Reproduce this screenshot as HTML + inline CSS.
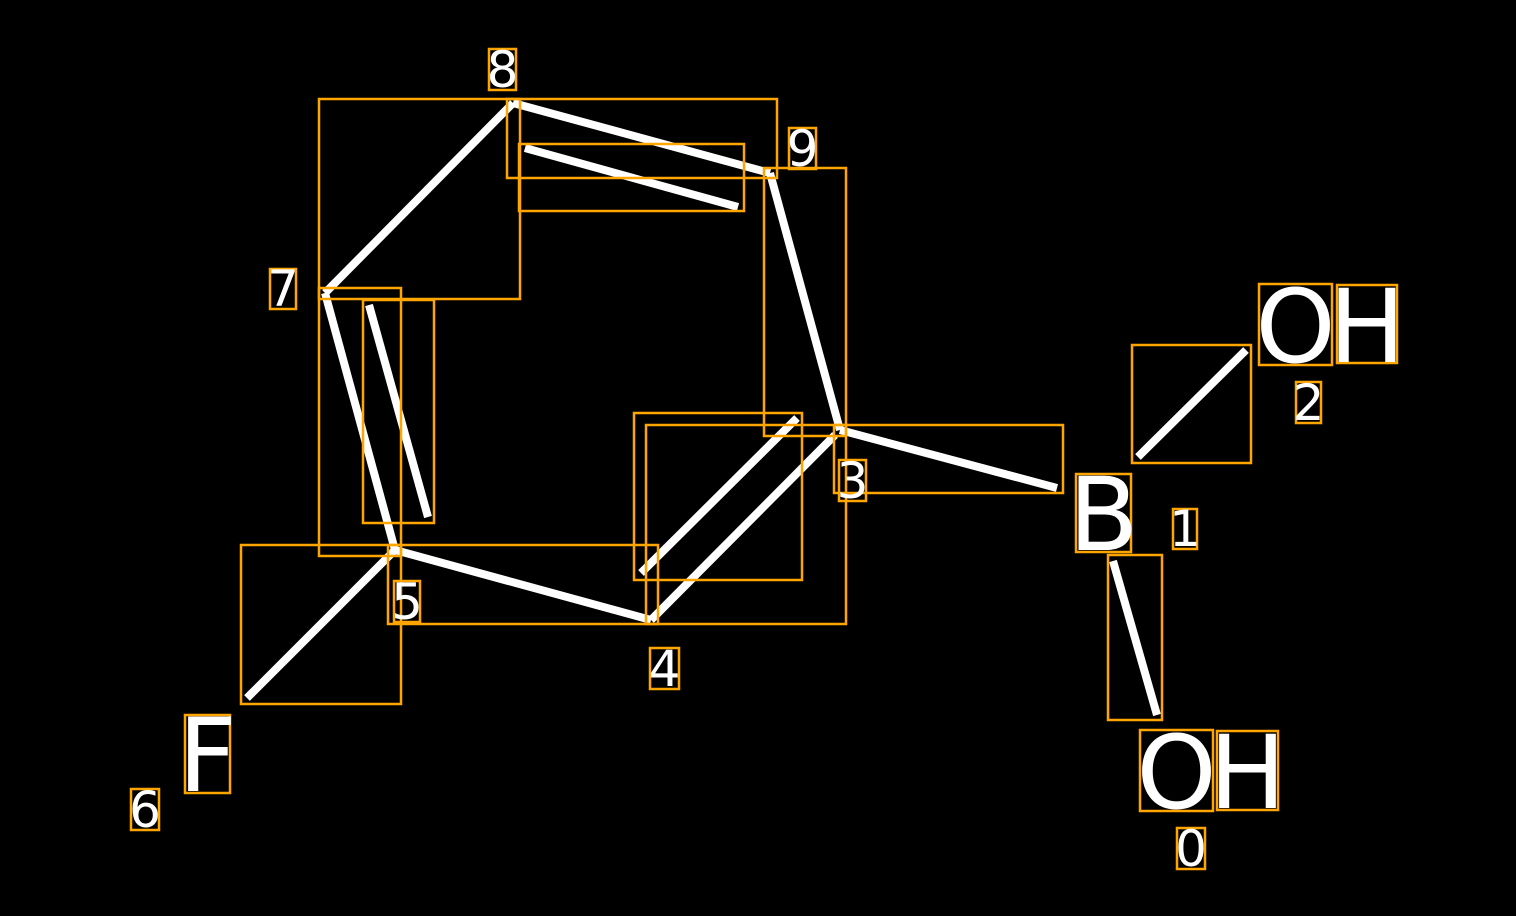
<!DOCTYPE html>
<html><head><style>html,body{margin:0;padding:0;background:#000;}svg{display:block}</style></head>
<body>
<svg width="1516" height="916" viewBox="0 0 1516 916" xmlns="http://www.w3.org/2000/svg">
<rect width="1516" height="916" fill="#000"/>
<g stroke="#fff" stroke-width="8" fill="none">
<line x1="513" y1="103" x2="325" y2="293"/>
<line x1="513" y1="103" x2="770" y2="173"/>
<line x1="525" y1="148" x2="738" y2="207"/>
<line x1="770" y1="173" x2="840" y2="430"/>
<line x1="840" y1="430" x2="1057" y2="488"/>
<line x1="835" y1="435" x2="651" y2="620"/>
<line x1="641" y1="573" x2="797" y2="418"/>
<line x1="651" y1="620" x2="395" y2="550"/>
<line x1="395" y1="550" x2="325" y2="293"/>
<line x1="369" y1="305" x2="428" y2="517"/>
<line x1="395" y1="550" x2="247" y2="698"/>
<line x1="1113" y1="561" x2="1157" y2="715"/>
<line x1="1138" y1="457" x2="1246" y2="350"/>
</g>
<g stroke="#FFA500" stroke-width="2.5" fill="none">
<rect x="319" y="99" width="201" height="200"/>
<rect x="507" y="99" width="270" height="79"/>
<rect x="519" y="144" width="225" height="67"/>
<rect x="764" y="168" width="82" height="268"/>
<rect x="834" y="425" width="229" height="68"/>
<rect x="646" y="425" width="200" height="199"/>
<rect x="634" y="413" width="168" height="167"/>
<rect x="388" y="545" width="270" height="79"/>
<rect x="319" y="288" width="82" height="268"/>
<rect x="363" y="300" width="71" height="223"/>
<rect x="241" y="545" width="160" height="159"/>
<rect x="1108" y="555" width="54" height="165"/>
<rect x="1132" y="345" width="119" height="118"/>
<rect x="489" y="49" width="27" height="41"/>
<rect x="789" y="128" width="27" height="41"/>
<rect x="270" y="269" width="26" height="40"/>
<rect x="839" y="460" width="27" height="41"/>
<rect x="394" y="581" width="26" height="41"/>
<rect x="650" y="648" width="29" height="41"/>
<rect x="131" y="789" width="28" height="41"/>
<rect x="185" y="715" width="45" height="78"/>
<rect x="1076" y="474" width="55" height="78"/>
<rect x="1173" y="509" width="24" height="40"/>
<rect x="1259" y="284" width="73" height="81"/>
<rect x="1337" y="285" width="60" height="78"/>
<rect x="1296" y="382" width="25" height="41"/>
<rect x="1140" y="730" width="73" height="81"/>
<rect x="1217" y="731" width="61" height="79"/>
<rect x="1177" y="828" width="28" height="41"/>
</g>
<g fill="#fff" font-family="DejaVu Sans, sans-serif" text-anchor="middle">
<g font-size="50">
<text x="502.5" y="87">8</text>
<text x="802.5" y="166">9</text>
<text x="283" y="306">7</text>
<text x="852.5" y="498">3</text>
<text x="407" y="619">5</text>
<text x="664.5" y="686">4</text>
<text x="145" y="827">6</text>
<text x="1185" y="546">1</text>
<text x="1308.5" y="420">2</text>
<text x="1191" y="866">0</text>
</g>
<g font-size="102">
<text x="207.5" y="791">F</text>
<text x="1103.5" y="550">B</text>
<text x="1295.5" y="362">O</text>
<text x="1367" y="362">H</text>
<text x="1176.5" y="808">O</text>
<text x="1247.5" y="808">H</text>
</g>
</g>
</svg>
</body></html>
